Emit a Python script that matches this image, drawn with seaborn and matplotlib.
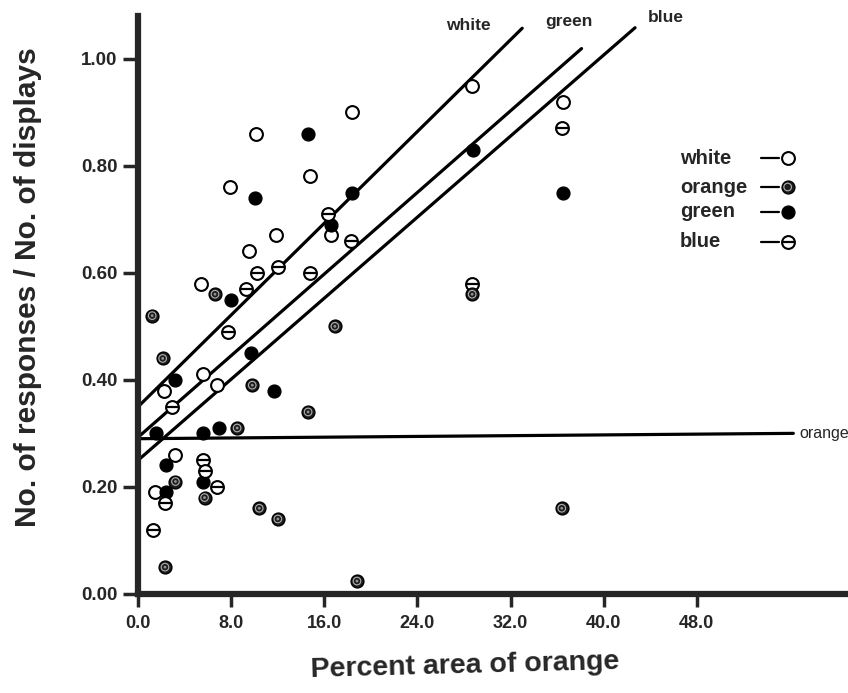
import matplotlib
matplotlib.use('Agg')
import matplotlib.pyplot as plt
import seaborn as sns

# values
white_x = [5.4, 5.6, 6.8, 2.2, 3.2, 1.4, 10.1, 14.8, 7.9, 18.4, 16.6, 11.8, 9.5, 28.7, 36.5]
white_y = [0.58, 0.41, 0.39, 0.38, 0.26, 0.19, 0.86, 0.78, 0.76, 0.90, 0.67, 0.67, 0.64, 0.95, 0.92]

orange_x = [6.6, 1.2, 2.1, 9.8, 14.6, 8.5, 3.2, 5.7, 10.4, 12.0, 2.3, 18.8, 16.9, 28.7, 36.4]
orange_y = [0.56, 0.52, 0.44, 0.39, 0.34, 0.31, 0.21, 0.18, 0.16, 0.14, 0.05, 0.024, 0.50, 0.56, 0.16]

green_x = [8.0, 9.7, 3.2, 11.7, 1.5, 5.6, 6.9, 2.4, 5.6, 2.4, 14.6, 10.0, 18.4, 16.6, 28.8, 36.5]
green_y = [0.55, 0.45, 0.40, 0.38, 0.30, 0.30, 0.31, 0.24, 0.21, 0.19, 0.86, 0.74, 0.75, 0.69, 0.83, 0.75]

blue_x = [9.3, 7.7, 2.9, 5.6, 5.7, 6.8, 2.3, 1.3, 16.3, 18.3, 12.0, 10.2, 14.8, 36.4, 28.7]
blue_y = [0.57, 0.49, 0.35, 0.25, 0.23, 0.20, 0.17, 0.12, 0.71, 0.66, 0.61, 0.60, 0.60, 0.87, 0.58]

# fitted lines: start and end points
line_names = ['white', 'green', 'blue', 'orange']
line_x0 = [0.0, 0.0, 0.0, 0.0]
line_y0 = [0.35, 0.293, 0.25, 0.29]
line_x1 = [33.0, 38.1, 42.7, 56.3]
line_y1 = [1.057, 1.019, 1.058, 0.30]

x_ticks = [0, 8, 16, 24, 32, 40, 48]
x_labels = ['0.0', '8.0', '16.0', '24.0', '32.0', '40.0', '48.0']
y_ticks = [0.0, 0.2, 0.4, 0.6, 0.8, 1.0]
y_labels = ['0.00', '0.20', '0.40', '0.60', '0.80', '1.00']

sns.set_style('ticks')
plt.rcParams['font.family'] = ['Liberation Sans', 'DejaVu Sans']

fig = plt.figure(figsize=(8.48, 6.93), dpi=100)
ax = fig.add_axes([0.163, 0.143, 0.837, 0.834])

for i in range(len(line_names)):
    sns.lineplot(x=[line_x0[i], line_x1[i]], y=[line_y0[i], line_y1[i]],
                 ax=ax, color='black', linewidth=2.3, zorder=2)

ms = 85

def open_circles(xs, ys):
    sns.scatterplot(x=xs, y=ys, ax=ax, s=ms, marker='o', color='white',
                    edgecolor='black', linewidth=1.5, zorder=3)

# white: open circle
open_circles(white_x, white_y)

# green: solid circle
sns.scatterplot(x=green_x, y=green_y, ax=ax, s=ms, marker='o', color='black',
                edgecolor='black', linewidth=1.0, zorder=3)

# blue: circle with a bar
open_circles(blue_x, blue_y)
sns.scatterplot(x=blue_x, y=blue_y, ax=ax, s=ms * 0.75, marker='_', color='black',
                linewidth=1.6, zorder=4)

# orange: bullseye
sns.scatterplot(x=orange_x, y=orange_y, ax=ax, s=ms, marker='o', color='#1c1c1c',
                edgecolor='black', linewidth=1.0, zorder=3)
sns.scatterplot(x=orange_x, y=orange_y, ax=ax, s=ms * 0.35, marker='o', color='none',
                edgecolor='#b0b0b0', linewidth=0.8, zorder=4)
sns.scatterplot(x=orange_x, y=orange_y, ax=ax, s=ms * 0.05, marker='o', color='#909090',
                edgecolor='none', zorder=5)

# line labels
ax.text(30.3, 1.063, 'white', ha='right', va='center', fontsize=12.5, weight='bold')
ax.text(37.0, 1.069, 'green', ha='center', va='center', fontsize=12.5, weight='bold')
ax.text(43.8, 1.077, 'blue', ha='left', va='center', fontsize=12.5, weight='bold')
ax.text(56.8, 0.30, 'orange', ha='left', va='center', fontsize=11.5)

# legend drawn by hand: label, dash, marker
leg_names = ['white', 'orange', 'green', 'blue']
leg_y = [0.754, 0.704, 0.661, 0.609]
tr = ax.transAxes
for name, yy in zip(leg_names, leg_y):
    ax.text(0.763, yy, name, transform=tr, ha='left', va='center', fontsize=14.5, weight='bold')
    ax.plot([0.877, 0.903], [yy, yy], transform=tr, color='black', linewidth=1.6, clip_on=False)
    if name == 'white':
        ax.scatter([0.915], [yy], transform=tr, s=ms, marker='o', facecolor='white',
                   edgecolor='black', linewidth=1.5, zorder=5, clip_on=False)
    elif name == 'green':
        ax.scatter([0.915], [yy], transform=tr, s=ms, marker='o', facecolor='black',
                   edgecolor='black', zorder=5, clip_on=False)
    elif name == 'blue':
        ax.scatter([0.915], [yy], transform=tr, s=ms, marker='o', facecolor='white',
                   edgecolor='black', linewidth=1.5, zorder=5, clip_on=False)
        ax.scatter([0.915], [yy], transform=tr, s=ms * 0.75, marker='_', color='black',
                   linewidth=1.6, zorder=6, clip_on=False)
    else:
        ax.scatter([0.915], [yy], transform=tr, s=ms, marker='o', facecolor='#1c1c1c',
                   edgecolor='black', zorder=5, clip_on=False)
        ax.scatter([0.915], [yy], transform=tr, s=ms * 0.35, marker='o', facecolor='none',
                   edgecolor='#b0b0b0', linewidth=0.8, zorder=6, clip_on=False)

ax.set_xlim(0, 61)
ax.set_ylim(0, 1.08)
ax.set_xticks(x_ticks)
ax.set_xticklabels(x_labels, weight='bold')
ax.set_yticks(y_ticks)
ax.set_yticklabels(y_labels, weight='bold')

sns.despine(ax=ax)
ax.spines['left'].set_linewidth(4.5)
ax.spines['bottom'].set_linewidth(4.5)
ax.tick_params(axis='x', direction='out', length=9, width=2.5, labelsize=13, pad=6)
ax.tick_params(axis='y', direction='out', length=11, width=2.5, labelsize=13.5, pad=4)

ax.set_xlabel('Percent area of orange', fontsize=20.5, weight='bold', rotation=1.5)
ax.set_ylabel('No. of responses / No. of displays', fontsize=21.5, weight='bold')
ax.xaxis.set_label_coords(0.46, -0.095)
ax.yaxis.set_label_coords(-0.135, 0.53)

fig.savefig('out.png', dpi=100)
